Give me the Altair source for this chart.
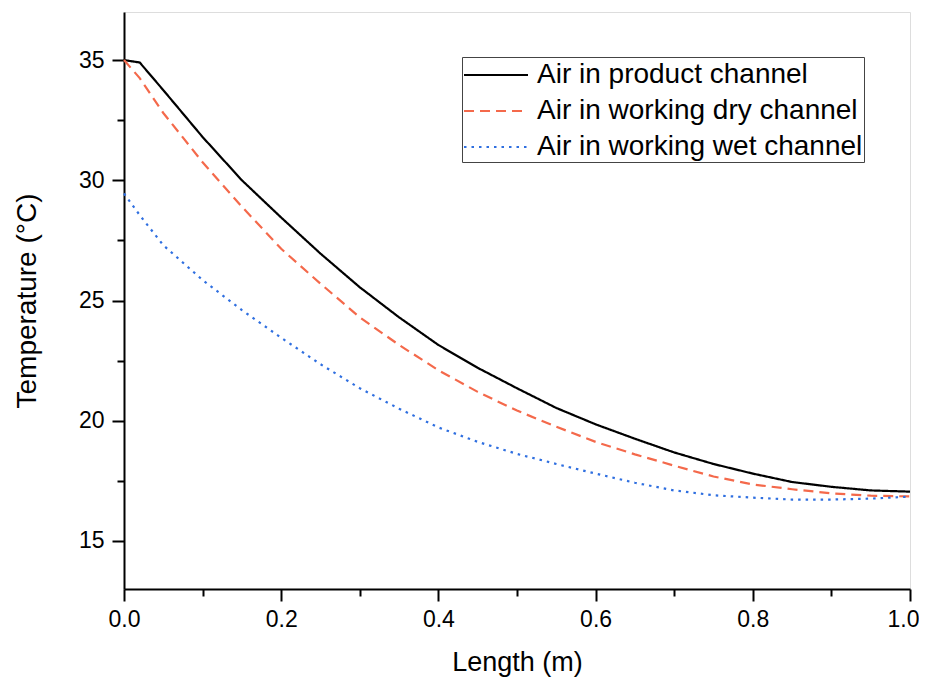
import altair as alt
import pandas as pd

# ---- data ----
length_m = [0.0, 0.02, 0.05, 0.1, 0.15, 0.2, 0.25, 0.3, 0.35, 0.4, 0.45, 0.5,
            0.55, 0.6, 0.65, 0.7, 0.75, 0.8, 0.85, 0.9, 0.95, 1.0]
temp_product = [35.0, 34.9, 33.75, 31.8, 30.0, 28.45, 26.95, 25.55, 24.3, 23.15, 22.2, 21.35,
                20.53, 19.85, 19.25, 18.68, 18.2, 17.8, 17.45, 17.25, 17.1, 17.05]
temp_dry = [35.0, 34.25, 32.8, 30.75, 28.9, 27.15, 25.7, 24.3, 23.15, 22.1, 21.2, 20.42,
            19.75, 19.12, 18.6, 18.13, 17.68, 17.35, 17.15, 16.98, 16.88, 16.85]
temp_wet = [29.45, 28.55, 27.3, 25.85, 24.6, 23.45, 22.35, 21.35, 20.5, 19.72, 19.12, 18.62,
            18.2, 17.8, 17.42, 17.1, 16.9, 16.8, 16.72, 16.72, 16.76, 16.84]

series_names = ["Air in product channel", "Air in working dry channel", "Air in working wet channel"]
series_values = [temp_product, temp_dry, temp_wet]
series_colors = ["#000000", "#F4694B", "#2F6FE0"]
series_dashes = [[1, 0], [10, 6], [2.5, 5]]

x_ticks = [round(i * 0.1, 1) for i in range(11)]
y_ticks = [15, 17.5, 20, 22.5, 25, 27.5, 30, 32.5, 35]

rows = []
for name, vals in zip(series_names, series_values):
    for i, (x, y) in enumerate(zip(length_m, vals)):
        rows.append({"series": name, "length": x, "temp": y, "order": i})
df = pd.DataFrame(rows)

FONT = "Liberation Sans"

chart = alt.Chart(df).mark_line(strokeWidth=2.2).encode(
    x=alt.X("length:Q",
            scale=alt.Scale(domain=[0, 1], nice=False, zero=False),
            axis=alt.Axis(title="Length (m)", values=x_ticks,
                          labelExpr="round(datum.value*10) % 2 == 0 ? format(datum.value, '.1f') : ''",
                          tickSize={"condition": {"test": "round(datum.value*10) % 2 == 0", "value": 12}, "value": 7},
                          labelOffset={"condition": {"test": "datum.value >= 1", "value": -7}, "value": 0},
                          grid=False, domainColor="black", domainWidth=2,
                          tickColor="black", tickWidth=2, labelFlush=False,
                          labelFont=FONT, labelFontSize=23, labelColor="black", labelPadding=7,
                          titleFont=FONT, titleFontSize=27, titleFontWeight="normal",
                          titleColor="black", titlePadding=18)),
    y=alt.Y("temp:Q",
            scale=alt.Scale(domain=[13, 37], nice=False, zero=False),
            axis=alt.Axis(title="Temperature (°C)", values=y_ticks,
                          labelExpr="datum.value % 5 == 0 ? format(datum.value, 'd') : ''",
                          tickSize={"condition": {"test": "datum.value % 5 == 0", "value": 12}, "value": 7},
                          grid=False, domainColor="black", domainWidth=2,
                          tickColor="black", tickWidth=2, labelFlush=False,
                          labelFont=FONT, labelFontSize=23, labelColor="black", labelPadding=8,
                          titleFont=FONT, titleFontSize=28, titleFontWeight="normal",
                          titleColor="black", titlePadding=37)),
    color=alt.Color("series:N",
                    scale=alt.Scale(domain=series_names, range=series_colors),
                    legend=alt.Legend(title=None, orient="none", legendX=338, legendY=45,
                                      symbolType="M-2,0H2", symbolSize=1024, symbolStrokeWidth=2,
                                      symbolOffset=16,
                                      labelFont=FONT, labelFontSize=28, labelColor="black",
                                      labelLimit=500, strokeColor="#444", padding=1,
                                      rowPadding=5, labelOffset=24)),
    strokeDash=alt.StrokeDash("series:N",
                              scale=alt.Scale(domain=series_names, range=series_dashes),
                              legend=None),
    order="order:Q",
).properties(
    width=786, height=577,
    autosize=alt.AutoSizeParams(type="none"),
    padding={"left": 116, "top": 4, "right": 9, "bottom": 88},
).configure_view(
    stroke="black", strokeWidth=2
).configure(background="white")

chart.save("out.html", embed_options={"renderer": "svg", "actions": False})
